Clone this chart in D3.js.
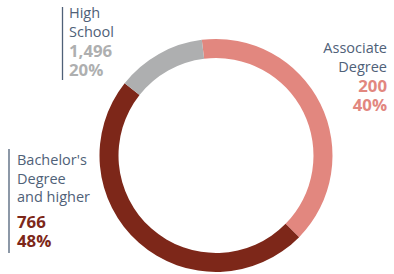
<!DOCTYPE html>
<html>
<head>
<meta charset="utf-8">
<script src="https://cdn.jsdelivr.net/npm/d3@7"></script>
<style>
  body { margin: 0; background: #fff; }
  svg { display: block; }
  text { font-family: "Open Sans", sans-serif; }
</style>
</head>
<body>
<div id="chart"></div>
<script>
// slices, in drawing order (clockwise from the top)
var categories = ["Associate Degree", "Bachelor's Degree and higher", "High School"];
var shares = [39.3, 48.3, 12.4];          // arc size as read from the ring
var counts = ["200", "766", "1,496"];     // printed numbers
var percents = ["40%", "48%", "20%"];     // printed percentages
var labelLines = [["Associate", "Degree"], ["Bachelor's", "Degree", "and higher"], ["High", "School"]];
var colors = ["#e2877f", "#7d2719", "#aeafb0"];

var width = 394, height = 274;
var cx = 216, cy = 155.5;
var outerR = 116.5, innerR = 97.5;

var svg = d3.select("#chart").append("svg")
    .attr("width", width)
    .attr("height", height);

var pie = d3.pie()
    .value(function(d) { return d; })
    .sort(null)
    .startAngle(-7 * Math.PI / 180)
    .endAngle(353 * Math.PI / 180);

var arc = d3.arc().innerRadius(innerR).outerRadius(outerR);

svg.append("g")
    .attr("transform", "translate(" + cx + "," + cy + ")")
    .selectAll("path")
    .data(pie(shares))
    .enter()
    .append("path")
    .attr("d", arc)
    .attr("fill", function(d, i) { return colors[i]; });

// label blocks
var labelColor = "#4f6178";
var blocks = [
  {x: 387, y: 53, anchor: "end", line: null},
  {x: 17, y: 165, anchor: "start", line: {x: 9, y1: 149, y2: 253}},
  {x: 69, y: 18, anchor: "start", line: {x: 62.5, y1: 7, y2: 80}}
];

blocks.forEach(function(b, i) {
  if (b.line) {
    svg.append("line")
      .attr("x1", b.line.x).attr("x2", b.line.x)
      .attr("y1", b.line.y1).attr("y2", b.line.y2)
      .attr("stroke", labelColor)
      .attr("stroke-width", 1.3);
  }
  var y = b.y;
  labelLines[i].forEach(function(t) {
    svg.append("text")
      .attr("x", b.x).attr("y", y)
      .attr("text-anchor", b.anchor)
      .attr("font-size", 14.5)
      .attr("fill", labelColor)
      .text(t);
    y += 18.7;
  });
  // bachelor's block has a small gap before the numbers
  if (i === 1) y += 6.5;
  else y += 1.3;
  svg.append("text")
    .attr("x", b.x).attr("y", y)
    .attr("text-anchor", b.anchor)
    .attr("font-size", 16.8)
    .attr("font-weight", "bold")
    .attr("fill", colors[i])
    .text(counts[i]);
  svg.append("text")
    .attr("x", b.x).attr("y", y + 19)
    .attr("text-anchor", b.anchor)
    .attr("font-size", 16.8)
    .attr("font-weight", "bold")
    .attr("fill", colors[i])
    .text(percents[i]);
});
</script>
</body>
</html>
